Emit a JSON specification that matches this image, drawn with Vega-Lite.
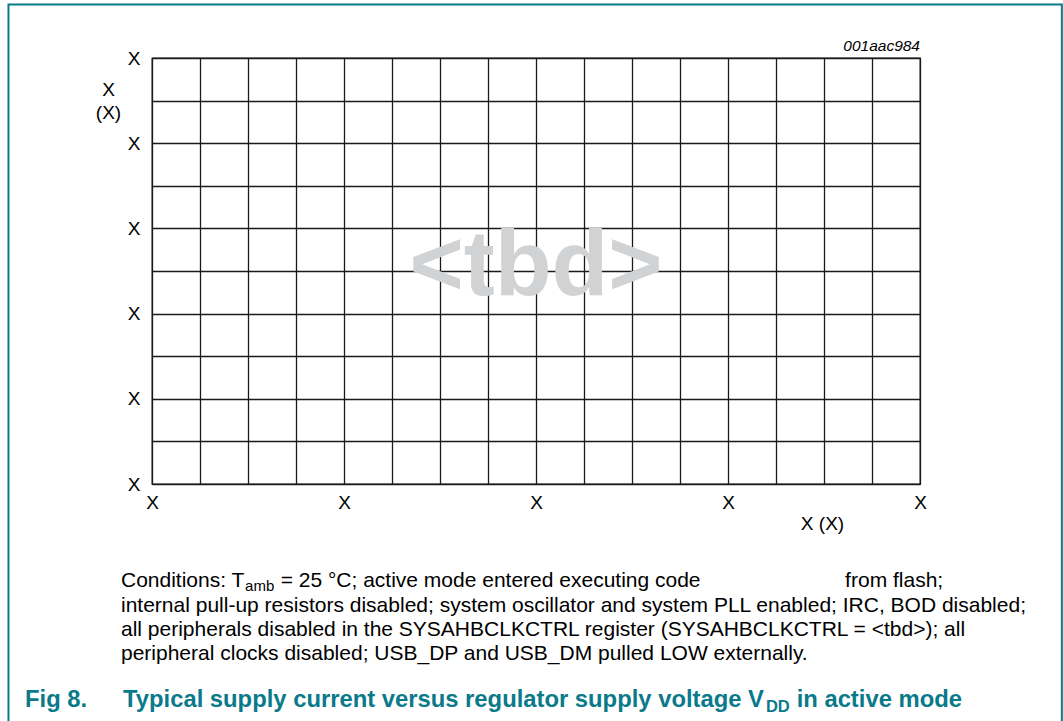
{
  "$schema": "https://vega.github.io/schema/vega-lite/v6.json",
  "width": 768,
  "height": 426,
  "autosize": {"type": "none"},
  "padding": {"left": 152, "top": 58, "right": 143, "bottom": 237},
  "background": "white",
  "config": {
    "view": {"stroke": "#1a1a1a", "strokeWidth": 1.3},
    "font": "Liberation Sans",
    "text": {"font": "Liberation Sans"}
  },
  "layer": [
    {
      "data": {"values": [{"text": "<tbd>"}]},
      "mark": {"type": "text", "fontSize": 93, "fontWeight": "bold", "color": "#d1d2d4", "align": "center", "baseline": "alphabetic"},
      "encoding": {
        "x": {
          "datum": 8, "type": "quantitative",
          "scale": {"domain": [0, 16], "nice": false, "zero": false},
          "axis": {
            "values": [0,1,2,3,4,5,6,7,8,9,10,11,12,13,14,15,16],
            "labelExpr": "datum.value % 4 === 0 ? 'X' : ''",
            "grid": true, "gridColor": "#1a1a1a", "gridWidth": 1.3, "gridOpacity": 1,
            "ticks": false, "domain": false,
            "labelFont": "Liberation Sans", "labelFontSize": 19, "labelColor": "black",
            "labelPadding": 9, "labelFlush": false, "labelOverlap": false,
            "title": "X (X)", "titleFont": "Liberation Sans", "titleFontSize": 19, "titleFontWeight": "normal", "titleColor": "black",
            "titleX": 670, "titleY": 45, "titleAlign": "center", "titleBaseline": "alphabetic", "titleAnchor": null
          }
        },
        "y": {
          "datum": 4.437, "type": "quantitative",
          "scale": {"domain": [0, 10], "nice": false, "zero": false},
          "axis": {
            "values": [0,1,2,3,4,5,6,7,8,9,10],
            "labelExpr": "datum.value % 2 === 0 ? 'X' : ''",
            "grid": true, "gridColor": "#1a1a1a", "gridWidth": 1.3, "gridOpacity": 1,
            "ticks": false, "domain": false,
            "labelFont": "Liberation Sans", "labelFontSize": 19, "labelColor": "black",
            "labelPadding": 12, "labelFlush": false, "labelOverlap": false, "labelBaseline": "middle",
            "title": ["X", "(X)"], "titleFont": "Liberation Sans", "titleFontSize": 19, "titleFontWeight": "normal", "titleColor": "black",
            "titleAngle": 0, "titleX": -44, "titleY": 37, "titleAlign": "center", "titleBaseline": "alphabetic", "titleLineHeight": 23
          }
        },
        "text": {"field": "text"}
      }
    },
    {
      "data": {"values": [{"text": "001aac984"}]},
      "mark": {"type": "text", "fontSize": 15.5, "fontStyle": "italic", "color": "black", "align": "right", "baseline": "alphabetic"},
      "encoding": {"x": {"datum": 16}, "y": {"datum": 10.171}, "text": {"field": "text"}}
    },
    {
      "data": {"values": [{"frame": "figure"}]},
      "mark": {"type": "rect", "filled": false, "stroke": "#0a7a8b", "strokeWidth": 2, "clip": false},
      "encoding": {"x": {"datum": -2.99}, "x2": {"datum": 18.955}, "y": {"datum": -7}, "y2": {"datum": 11.253}}
    },
    {
      "data": {"values": [
        {"text": "internal pull-up resistors disabled; system oscillator and system PLL enabled; IRC, BOD disabled;", "line": -2.993},
        {"text": "all peripherals disabled in the SYSAHBCLKCTRL register (SYSAHBCLKCTRL = <tbd>); all", "line": -3.568},
        {"text": "peripheral clocks disabled; USB_DP and USB_DM pulled LOW externally.", "line": -4.143}
      ]},
      "mark": {"type": "text", "fontSize": 21, "color": "black", "align": "left", "baseline": "alphabetic"},
      "encoding": {"x": {"datum": -0.646}, "y": {"field": "line", "type": "quantitative"}, "text": {"field": "text"}}
    },
    {
      "data": {"values": [{"text": "Conditions: T"}]},
      "mark": {"type": "text", "fontSize": 21, "color": "black", "align": "left", "baseline": "alphabetic"},
      "encoding": {"x": {"datum": -0.646}, "y": {"datum": -2.418}, "text": {"field": "text"}}
    },
    {
      "data": {"values": [{"text": "amb"}]},
      "mark": {"type": "text", "fontSize": 15, "color": "black", "align": "left", "baseline": "alphabetic"},
      "encoding": {"x": {"datum": 1.94}, "y": {"datum": -2.512}, "text": {"field": "text"}}
    },
    {
      "data": {"values": [{"text": "= 25 °C; active mode entered executing code"}]},
      "mark": {"type": "text", "fontSize": 21, "color": "black", "align": "left", "baseline": "alphabetic"},
      "encoding": {"x": {"datum": 2.68}, "y": {"datum": -2.418}, "text": {"field": "text"}}
    },
    {
      "data": {"values": [{"text": "from flash;"}]},
      "mark": {"type": "text", "fontSize": 21, "color": "black", "align": "left", "baseline": "alphabetic"},
      "encoding": {"x": {"datum": 14.44}, "y": {"datum": -2.418}, "text": {"field": "text"}}
    },
    {
      "data": {"values": [{"text": "Fig 8."}]},
      "mark": {"type": "text", "fontSize": 23.8, "fontWeight": "bold", "color": "#0a7a8b", "align": "left", "baseline": "alphabetic"},
      "encoding": {"x": {"datum": -2.646}, "y": {"datum": -5.235}, "text": {"field": "text"}}
    },
    {
      "data": {"values": [{"text": "Typical supply current versus regulator supply voltage V"}]},
      "mark": {"type": "text", "fontSize": 23.8, "fontWeight": "bold", "color": "#0a7a8b", "align": "left", "baseline": "alphabetic"},
      "encoding": {"x": {"datum": -0.604}, "y": {"datum": -5.235}, "text": {"field": "text"}}
    },
    {
      "data": {"values": [{"text": "DD"}]},
      "mark": {"type": "text", "fontSize": 16.5, "fontWeight": "bold", "color": "#0a7a8b", "align": "left", "baseline": "alphabetic"},
      "encoding": {"x": {"datum": 12.79}, "y": {"datum": -5.352}, "text": {"field": "text"}}
    },
    {
      "data": {"values": [{"text": "in active mode"}]},
      "mark": {"type": "text", "fontSize": 23.8, "fontWeight": "bold", "color": "#0a7a8b", "align": "left", "baseline": "alphabetic"},
      "encoding": {"x": {"datum": 13.43}, "y": {"datum": -5.235}, "text": {"field": "text"}}
    }
  ]
}
